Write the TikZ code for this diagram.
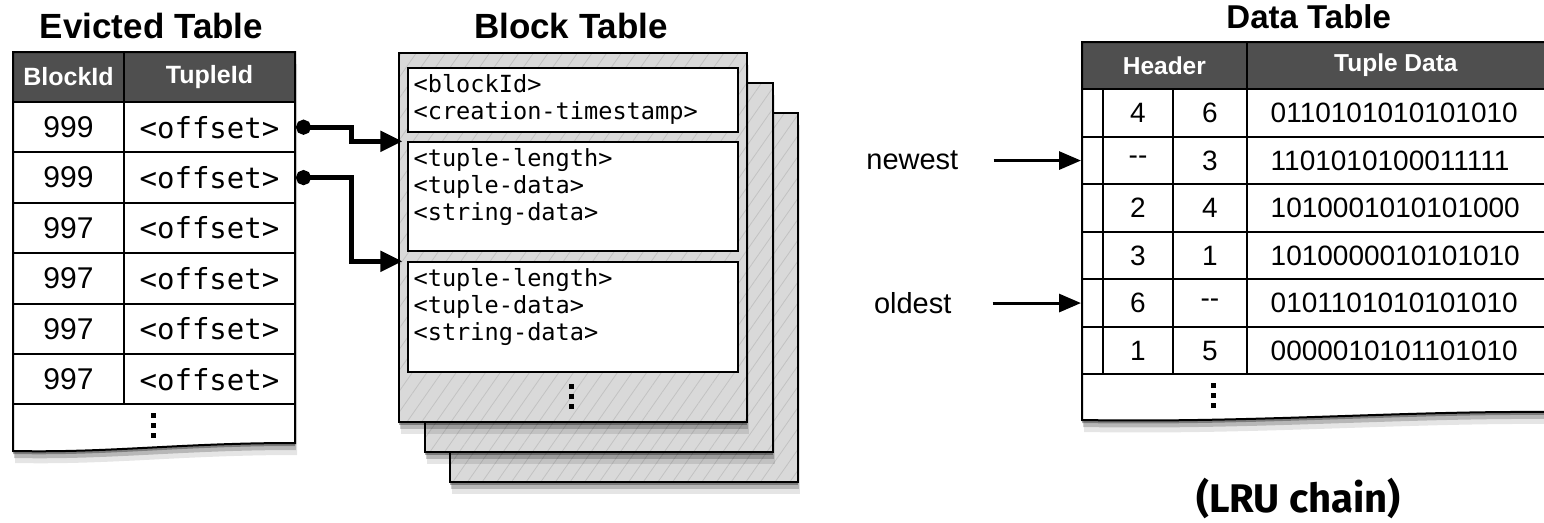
\documentclass[tikz,border=0pt]{standalone}
\usepackage{fontspec}
\setmainfont{Liberation Sans}
\newfontfamily\codefont{DejaVu Sans Mono}
\newfontfamily\chainfont{Fira Sans}
\usetikzlibrary{positioning,shapes.misc,arrows.meta,shadows,patterns.meta}

\newcommand{\sqdots}{\vbox{\offinterlineskip\hbox{\rule{5pt}{5pt}}\kern5pt\hbox{\rule{5pt}{5pt}}\kern5pt\hbox{\rule{5pt}{5pt}}}}

\tikzstyle{softshadow} = [drop shadow={shadow xshift=0pt, shadow yshift=-3pt, opacity=.32, fill=black}, drop shadow={shadow xshift=1pt, shadow yshift=-7pt, opacity=.2, fill=black}, drop shadow={shadow xshift=2pt, shadow yshift=-12pt, opacity=.1, fill=black}]
\tikzstyle{tabtitle} = [font=\fontsize{35}{40}\selectfont\bfseries, anchor=base, inner sep=0pt]
\tikzstyle{hcell} = [draw=black, line width=2pt, fill=black!69, text=white, inner sep=0pt, font=\fontsize{25}{30}\selectfont\bfseries]
\tikzstyle{ecell} = [draw=black, line width=2pt, fill=white, inner sep=0pt, minimum height=50.4pt, font=\fontsize{30}{36}\selectfont]
\tikzstyle{offcell} = [ecell, minimum width=171pt, font=\codefont\fontsize{29}{34}\selectfont]
\tikzstyle{page} = [softshadow, draw=black, line width=2pt, minimum width=348pt, minimum height=369pt, preaction={fill=black!15}, pattern={Lines[angle=55,distance=12pt,line width=0.8pt]}, pattern color=black!24]
\tikzstyle{tbox} = [draw=black, line width=2pt, fill=white, minimum width=329.6pt, inner sep=0pt]
\tikzstyle{btext} = [anchor=north west, inner sep=0pt, align=left, font=\codefont\fontsize{23.6}{27}\selectfont]
\tikzstyle{link} = [line width=5pt, {Circle[length=15pt]}-{Triangle[length=22pt,width=20pt]}]
\tikzstyle{dcell} = [draw=black, line width=2pt, fill=white, inner sep=0pt, minimum height=47.5pt, font=\fontsize{28}{33}\selectfont]
\tikzstyle{lru} = [line width=3pt, -{Triangle[length=22pt,width=18pt]}]
\tikzstyle{sidetext} = [font=\fontsize{29}{34}\selectfont, inner sep=0pt]

\begin{document}
\begin{tikzpicture}[x=1pt, y=-1pt]
\useasboundingbox (0,0) rectangle (1544,522);

% evicted table
\node[tabtitle] (etitle) at (151.5,38) {Evicted Table};
\path[softshadow, fill=white] (13,52) -- (295,52) -- (295,443) .. controls (180,443) and (110,453) .. (13,451) -- cycle;
\node[hcell, minimum width=111pt, minimum height=50pt] (ehblock) at (68.5,76.8) {BlockId};
\node[hcell, minimum width=171pt, minimum height=50pt] (ehtuple) at (209.5,76.8) {TupleId};
\foreach \v [count=\i] in {999,999,997,997,997,997} {
  \node[ecell, minimum width=111pt] (eblk\i) at (68.5,76.8+50.4*\i) {\v};
  \node[offcell] (eoff\i) at (209.5,76.8+50.4*\i) {<offset>};
}
\node[inner sep=0pt] (edots) at (153,425) {\sqdots};
\draw[line width=2pt] (13,52) -- (295,52) -- (295,443) .. controls (180,443) and (110,453) .. (13,451) -- cycle;

% block table
\node[tabtitle] (btitle) at (571,38) {Block Table};
\node[page] (page3) at (623.5,297.8) {};
\node[page] (page2) at (598.5,267.2) {};
\node[page] (page1) at (573,237) {};
\node[tbox, minimum height=63.4pt] (bhead) at (573.2,100) {};
\node[tbox, minimum height=108.4pt] (tup1) at (573.2,196.5) {};
\node[tbox, minimum height=109.4pt] (tup2) at (573.2,317) {};
\node[btext] (bheadtxt) at ([shift={(6,7)}]bhead.north west) {<blockId>\\<creation-timestamp>};
\node[btext] (tup1txt) at ([shift={(6,7)}]tup1.north west) {<tuple-length>\\<tuple-data>\\<string-data>};
\node[btext] (tup2txt) at ([shift={(6,7)}]tup2.north west) {<tuple-length>\\<tuple-data>\\<string-data>};
\node[inner sep=0pt] (bdots) at (571,396) {\sqdots};

% pointers into the blocks
\draw[link] (eoff1.east) -- ++(55,0) |- ([xshift=-5pt]tup1.north west);
\draw[link] (eoff2.east) -- ++(55,0) |- ([xshift=-5pt]tup2.north west);

% data table
\node[tabtitle, font=\fontsize{33}{38}\selectfont\bfseries] (dtitle) at (1308.7,28) {Data Table};
\path[softshadow, fill=white] (1082,42) -- (1545,42) -- (1545,412) .. controls (1400,411) and (1250,423) .. (1082,420) -- cycle;
\node[hcell, minimum width=164.7pt, minimum height=47.6pt, font=\fontsize{24.5}{29}\selectfont\bfseries] (dhead) at (1164.35,65.5) {Header};
\node[hcell, minimum width=298.3pt, minimum height=47.6pt, font=\fontsize{24.5}{29}\selectfont\bfseries] (dtuple) at (1395.85,65.5) {Tuple Data};
\foreach \a/\b/\d [count=\i] in {4/6/0110101010101010, {-}{-}/3/1101010100011111, 2/4/1010001010101000, 3/1/1010000010101010, 6/{-}{-}/0101101010101010, 1/5/0000010101101010} {
  \node[dcell, minimum width=21pt] (dz\i) at (1092.5,65.55+47.5*\i) {};
  \node[dcell, minimum width=70pt] (dp\i) at (1138,65.55+47.5*\i) {\a};
  \node[dcell, minimum width=73.7pt] (dn\i) at (1209.85,65.55+47.5*\i) {\b};
  \node[dcell, minimum width=298.3pt] (dd\i) at (1395.85,65.55+47.5*\i) {};
  \node[dcell, draw=none, fill=none, anchor=west] (dt\i) at ([xshift=24pt]dd\i.west) {\d};
}
\node[inner sep=0pt] (ddots) at (1213,395.5) {\sqdots};
\draw[line width=2pt] (1082,42) -- (1545,42) -- (1545,412) .. controls (1400,411) and (1250,423) .. (1082,420) -- cycle;

% lru pointers
\node[sidetext, anchor=east] (newest) at (958.5,160.55) {newest};
\node[sidetext, anchor=east] (oldest) at (951.6,303.05) {oldest};
\draw[lru] ([xshift=35pt]newest.east) -- (dz2.west);
\draw[lru] ([xshift=41pt]oldest.east) -- (dz5.west);
\node[font=\chainfont\fontsize{40}{46}\selectfont\bfseries, anchor=base] (lru) at (1298.5,512) {(LRU chain)};
\end{tikzpicture}
\end{document}
